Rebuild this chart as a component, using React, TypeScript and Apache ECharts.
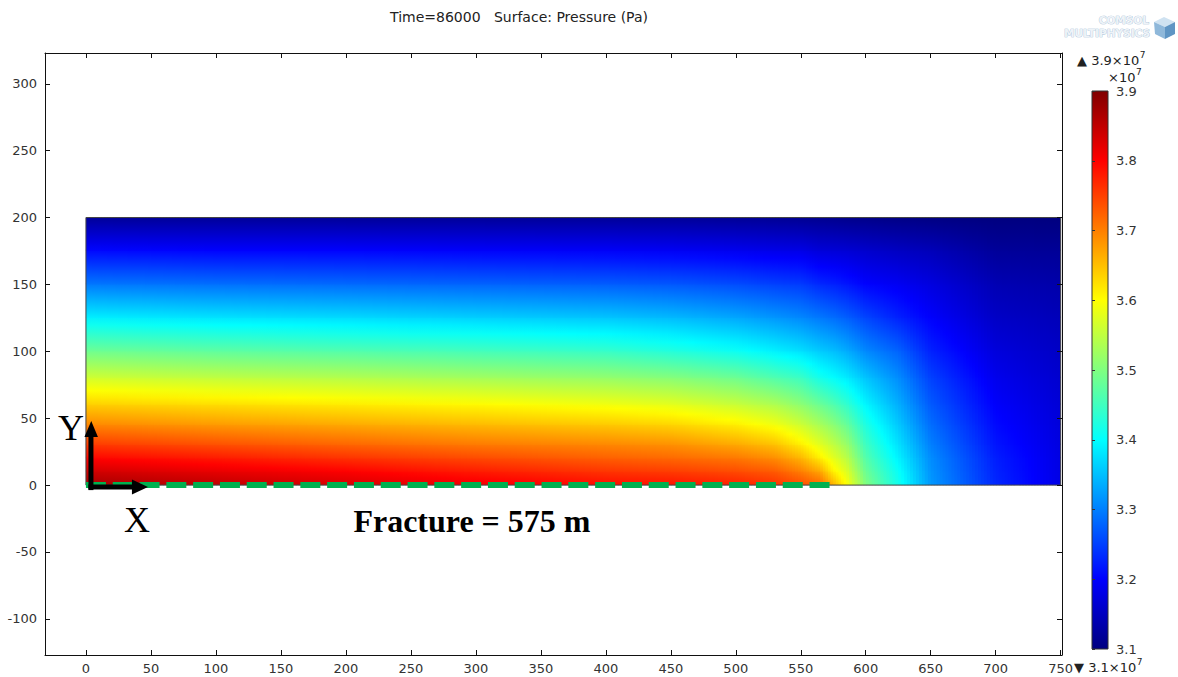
import React, { useEffect, useRef } from "react";
import * as echarts from "echarts";

// Axis tick labels
const xTicks = [0, 50, 100, 150, 200, 250, 300, 350, 400, 450, 500, 550, 600, 650, 700, 750];
const yTicks = [-100, -50, 0, 50, 100, 150, 200, 250, 300];
const colorTicks = [3.1, 3.2, 3.3, 3.4, 3.5, 3.6, 3.7, 3.8, 3.9];

// Sample grid of the pressure field (m)
const xNodes = [0, 100, 200, 300, 400, 450, 500, 530, 550, 565, 575, 585, 600, 625, 650, 700, 750];
const yNodes = [0, 10, 20, 30, 45, 60, 80, 100, 125, 150, 175, 200];

// Pressure (x10^7 Pa), one array per y node, values follow xNodes
const p_y0 = [3.87, 3.85, 3.83, 3.81, 3.79, 3.785, 3.775, 3.76, 3.74, 3.72, 3.66, 3.6, 3.5, 3.415, 3.32, 3.23, 3.18];
const p_y10 = [3.835, 3.817, 3.8, 3.778, 3.758, 3.752, 3.74, 3.728, 3.7, 3.667, 3.61, 3.574, 3.483, 3.405, 3.315, 3.226, 3.179];
const p_y20 = [3.796, 3.779, 3.76, 3.741, 3.724, 3.717, 3.705, 3.688, 3.657, 3.611, 3.578, 3.547, 3.465, 3.39, 3.31, 3.222, 3.178];
const p_y30 = [3.754, 3.737, 3.72, 3.704, 3.693, 3.686, 3.667, 3.648, 3.613, 3.576, 3.55, 3.521, 3.448, 3.377, 3.3, 3.215, 3.176];
const p_y45 = [3.693, 3.678, 3.666, 3.653, 3.641, 3.632, 3.611, 3.589, 3.56, 3.53, 3.508, 3.481, 3.422, 3.357, 3.285, 3.206, 3.172];
const p_y60 = [3.637, 3.625, 3.614, 3.603, 3.589, 3.578, 3.556, 3.536, 3.51, 3.483, 3.463, 3.439, 3.393, 3.337, 3.27, 3.197, 3.168];
const p_y80 = [3.562, 3.55, 3.54, 3.527, 3.515, 3.504, 3.485, 3.462, 3.446, 3.414, 3.4, 3.385, 3.353, 3.31, 3.25, 3.185, 3.162];
const p_y100 = [3.485, 3.473, 3.463, 3.452, 3.441, 3.426, 3.407, 3.389, 3.375, 3.358, 3.349, 3.335, 3.306, 3.277, 3.225, 3.172, 3.155];
const p_y125 = [3.388, 3.378, 3.371, 3.362, 3.354, 3.345, 3.33, 3.317, 3.306, 3.293, 3.285, 3.274, 3.253, 3.225, 3.198, 3.155, 3.145];
const p_y150 = [3.293, 3.286, 3.282, 3.277, 3.272, 3.267, 3.258, 3.249, 3.245, 3.23, 3.224, 3.216, 3.2, 3.19, 3.175, 3.14, 3.133];
const p_y175 = [3.204, 3.2, 3.2, 3.197, 3.195, 3.192, 3.187, 3.182, 3.18, 3.17, 3.168, 3.166, 3.16, 3.152, 3.145, 3.12, 3.118];
const p_y200 = [3.12, 3.12, 3.12, 3.12, 3.12, 3.12, 3.118, 3.117, 3.115, 3.113, 3.112, 3.11, 3.108, 3.105, 3.103, 3.1, 3.1];
const pressureRows = [p_y0, p_y10, p_y20, p_y30, p_y45, p_y60, p_y80, p_y100, p_y125, p_y150, p_y175, p_y200];

// Model domain outline and fracture trace
const domainOutline = [[0, 0], [0, 200], [750, 200], [750, 0], [0, 0]];
const fractureLine = [[0, 0], [575, 0]];
const fractureLength = 575;

const P_MIN = 3.1;
const P_MAX = 3.9;
const FONT = "DejaVu Sans";
const X_END = xNodes[xNodes.length - 1];
const Y_END = yNodes[yNodes.length - 1];

// Rainbow (jet) colour table
function jet(v: number): string {
  const t = Math.min(1, Math.max(0, (v - P_MIN) / (P_MAX - P_MIN)));
  const c = (k: number) => Math.round(255 * Math.min(1, Math.max(0, 1.5 - Math.abs(4 * t - k))));
  return `rgb(${c(3)},${c(2)},${c(1)})`;
}

function buildCells() {
  const cells: number[][] = [];
  for (let j = 0; j < yNodes.length - 1; j++) {
    for (let i = 0; i < xNodes.length - 1; i++) {
      cells.push([
        xNodes[i], yNodes[j], xNodes[i + 1], yNodes[j + 1],
        pressureRows[j][i], pressureRows[j][i + 1], pressureRows[j + 1][i], pressureRows[j + 1][i + 1],
      ]);
    }
  }
  return cells;
}

function measure(text: string, size: number, weight = "normal", family = FONT) {
  const ctx = document.createElement("canvas").getContext("2d");
  if (!ctx) return text.length * size * 0.6;
  ctx.font = `${weight} ${size}px "${family}"`;
  return ctx.measureText(text).width;
}

export default function App() {
  const ref = useRef<HTMLDivElement>(null);

  useEffect(() => {
    if (!ref.current) return;
    const chart = echarts.init(ref.current, undefined, { renderer: "svg" });

    const axisLine = { show: true, onZero: false, lineStyle: { color: "#111", width: 1 } };
    const labelStyle = { fontSize: 13, color: "#333", fontFamily: FONT };
    const tick = (values: number[]) => ({ inside: true, length: 5, lineStyle: { color: "#111" }, customValues: values });

    const option: any = {
      animation: false,
      backgroundColor: "#fff",
      grid: [
        { left: 45, right: 116, top: 53, bottom: 22, show: false },
        { left: 1092, width: 16, top: 91, height: 558, show: false },
      ],
      xAxis: [
        {
          type: "value", gridIndex: 0, min: -31.5, max: 751, position: "bottom", z: 10,
          axisLine, splitLine: { show: false }, axisTick: tick(xTicks),
          axisLabel: { ...labelStyle, margin: 7, customValues: xTicks },
        },
        {
          type: "value", gridIndex: 0, min: -31.5, max: 751, position: "top", z: 10,
          axisLine, splitLine: { show: false }, axisTick: tick(xTicks),
          axisLabel: { show: false },
        },
        { type: "value", gridIndex: 1, min: 0, max: 1, show: false },
      ],
      yAxis: [
        {
          type: "value", gridIndex: 0, min: -127, max: 323, position: "left", z: 10,
          axisLine, splitLine: { show: false }, axisTick: tick(yTicks),
          axisLabel: { ...labelStyle, margin: 8, customValues: yTicks },
        },
        {
          type: "value", gridIndex: 0, min: -127, max: 323, position: "right", z: 10,
          axisLine, splitLine: { show: false }, axisTick: tick(yTicks),
          axisLabel: { show: false },
        },
        {
          type: "value", gridIndex: 1, min: P_MIN, max: P_MAX, position: "right", z: 10,
          axisLine: { show: false }, splitLine: { show: false }, axisTick: { show: false },
          axisLabel: { ...labelStyle, margin: 8, customValues: colorTicks, formatter: (v: number) => v.toFixed(1) },
        },
        {
          type: "value", gridIndex: 1, min: P_MIN, max: P_MAX, position: "left", z: 10,
          axisLine: { show: false }, splitLine: { show: false },
          axisTick: { inside: true, length: 3, lineStyle: { color: "#333" }, customValues: colorTicks },
          axisLabel: { show: false },
        },
      ],
      series: [
        {
          type: "custom",
          name: "Pressure",
          xAxisIndex: 0, yAxisIndex: 0,
          silent: true, clip: true, z: 1,
          encode: { x: [0, 2], y: [1, 3] },
          data: buildCells(),
          renderItem: (_params: any, api: any) => {
            const a = api.coord([api.value(0), api.value(1)]);
            const b = api.coord([api.value(2), api.value(3)]);
            const p00 = api.value(4), p10 = api.value(5), p01 = api.value(6), p11 = api.value(7);
            const lastCol = api.value(2) >= X_END;
            const topRow = api.value(3) >= Y_END;
            const left = a[0];
            const w = b[0] - a[0];
            const top = b[1];
            const h = a[1] - b[1];
            // overlap the next cell above so no background shows through the seams
            const padTop = topRow ? 0 : 1.5;
            const k = Math.max(1, Math.ceil(w / 3));
            const children: any[] = [];
            for (let s = 0; s < k; s++) {
              const u = (s + 0.5) / k;
              const vb = p00 + (p10 - p00) * u;
              const vt = p01 + (p11 - p01) * u;
              const stops: any[] = [];
              for (let q = 0; q <= 4; q++) {
                const f = q / 4;
                stops.push({ offset: f, color: jet(vb + (vt - vb) * f) });
              }
              const padRight = lastCol && s === k - 1 ? 0 : 1.5;
              children.push({
                type: "rect",
                shape: { x: left + (w * s) / k, y: top - padTop, width: w / k + padRight, height: h + padTop },
                style: { fill: { type: "linear", x: 0, y: 1, x2: 0, y2: 0, colorStops: stops } },
              });
            }
            return { type: "group", children };
          },
        },
        {
          type: "line", name: "Domain", xAxisIndex: 0, yAxisIndex: 0, z: 3, silent: true,
          data: domainOutline, symbol: "none",
          lineStyle: { color: "#444", width: 1 },
        },
        {
          type: "line", name: "Fracture", xAxisIndex: 0, yAxisIndex: 0, z: 4, silent: true,
          data: fractureLine, symbol: "none",
          lineStyle: { color: "#00b050", width: 6, type: [20, 6.8], cap: "butt" },
        },
        {
          type: "custom", name: "Colorbar", xAxisIndex: 2, yAxisIndex: 2, silent: true, z: 2,
          data: [[0, P_MIN, 1, P_MAX]],
          renderItem: (_params: any, api: any) => {
            const a = api.coord([api.value(0), api.value(1)]);
            const b = api.coord([api.value(2), api.value(3)]);
            const stops = [0, 0.125, 0.375, 0.5, 0.625, 0.875, 1].map((t) => ({
              offset: t,
              color: jet(P_MIN + t * (P_MAX - P_MIN)),
            }));
            return {
              type: "rect",
              shape: { x: a[0], y: b[1], width: b[0] - a[0], height: a[1] - b[1] },
              style: {
                fill: { type: "linear", x: 0, y: 1, x2: 0, y2: 0, colorStops: stops },
                stroke: "#333", lineWidth: 1,
              },
            };
          },
        },
      ],
    };

    chart.setOption(option);

    // Annotations placed relative to the domain origin
    const o = chart.convertToPixel({ gridIndex: 0 }, [0, 0]) as number[];
    const ox = o[0], oy = o[1];

    const supText = (x: number, y: number, base: string, id: string) => {
      const w = measure(base, 13);
      return [
        { type: "text", id: id + "b", x, y, z: 20, style: { text: base, fontSize: 13, fontFamily: FONT, fill: "#222", verticalAlign: "middle" } },
        { type: "text", id: id + "s", x: x + w + 0.5, y: y - 5, z: 20, style: { text: "7", fontSize: 9, fontFamily: FONT, fill: "#222", verticalAlign: "middle" } },
      ];
    };

    const title = "Time=86000   Surface: Pressure (Pa)";
    const fractureLabel = `Fracture = ${fractureLength} m`;
    const badge = { fontSize: 10.5, fontWeight: "bold", fontFamily: FONT, fill: "#eef3f8", stroke: "#9dbad3", lineWidth: 0.7, align: "right", verticalAlign: "middle" };

    chart.setOption({
      graphic: [
        { type: "text", id: "title", x: 519, y: 17, z: 20, style: { text: title, fontSize: 14, fontFamily: FONT, fill: "#222", align: "center", verticalAlign: "middle" } },
        ...supText(1077, 60, "\u25B2 3.9\u00D710", "top"),
        ...supText(1108, 77, "\u00D710", "mid"),
        ...supText(1074, 667, "\u25BC 3.1\u00D710", "bot"),
        // COMSOL badge
        { type: "text", id: "lg1", x: 1149, y: 20, z: 20, style: { ...badge, text: "COMSOL" } },
        { type: "text", id: "lg2", x: 1150, y: 33, z: 20, style: { ...badge, text: "MULTIPHYSICS" } },
        { type: "polygon", id: "cb1", z: 20, shape: { points: [[1164, 17], [1175, 22], [1165, 27], [1154, 22]] }, style: { fill: "#cfe2f1" } },
        { type: "polygon", id: "cb2", z: 20, shape: { points: [[1154, 22], [1165, 27], [1165, 39], [1155, 34]] }, style: { fill: "#8fb8da" } },
        { type: "polygon", id: "cb3", z: 20, shape: { points: [[1165, 27], [1175, 22], [1175, 34], [1165, 39]] }, style: { fill: "#5f95c4" } },
        // axis arrows
        { type: "line", id: "ay", z: 30, shape: { x1: ox + 5, y1: oy + 5, x2: ox + 5, y2: oy - 50 }, style: { stroke: "#000", lineWidth: 5 } },
        { type: "polygon", id: "ayh", z: 30, shape: { points: [[ox - 1.5, oy - 48], [ox + 12, oy - 48], [ox + 5.3, oy - 64]] }, style: { fill: "#000" } },
        { type: "line", id: "ax", z: 30, shape: { x1: ox + 2.5, y1: oy + 2, x2: ox + 48, y2: oy + 2 }, style: { stroke: "#000", lineWidth: 5 } },
        { type: "polygon", id: "axh", z: 30, shape: { points: [[ox + 46, oy - 5.5], [ox + 46, oy + 9.5], [ox + 62, oy + 2]] }, style: { fill: "#000" } },
        { type: "text", id: "ly", x: ox - 15, y: oy - 57, z: 30, style: { text: "Y", fontSize: 36, fontFamily: "Liberation Serif", fill: "#000", align: "center", verticalAlign: "middle" } },
        { type: "text", id: "lx", x: ox + 51, y: oy + 35, z: 30, style: { text: "X", fontSize: 36, fontFamily: "Liberation Serif", fill: "#000", align: "center", verticalAlign: "middle" } },
        { type: "text", id: "lf", x: ox + 386, y: oy + 36, z: 30, style: { text: fractureLabel, fontSize: 32, fontWeight: "bold", fontFamily: "Liberation Serif", fill: "#000", align: "center", verticalAlign: "middle" } },
      ],
    });

    return () => chart.dispose();
  }, []);

  return (
    <div
      ref={ref}
      style={{ position: "fixed", left: 0, top: 0, width: 1178, height: 677, background: "#fff" }}
    />
  );
}
